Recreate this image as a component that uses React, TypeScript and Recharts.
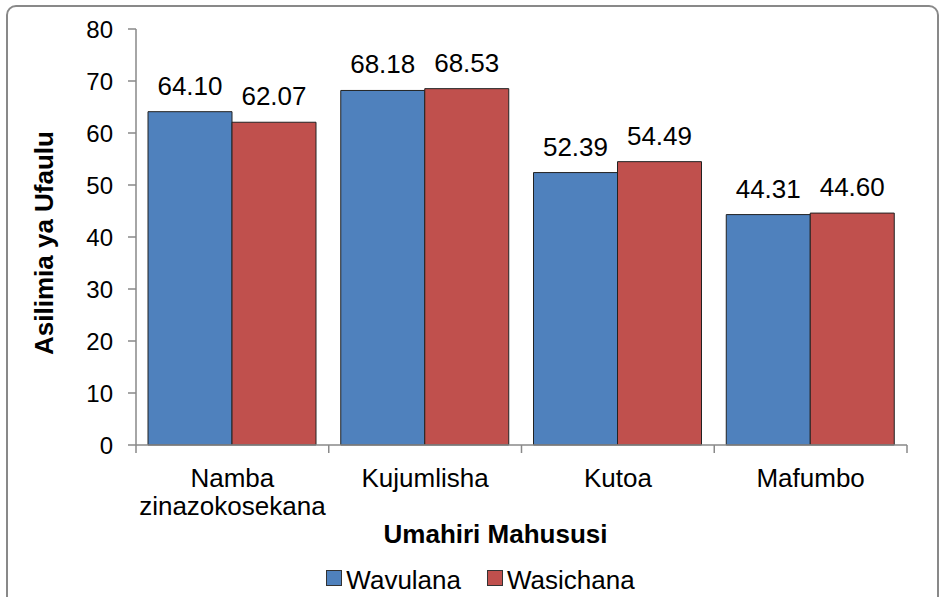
import React from "react"
import { Bar, BarChart, XAxis, YAxis, Legend, LabelList } from "recharts"

const categories = ["Namba\nzinazokosekana", "Kujumlisha", "Kutoa", "Mafumbo"]
const wavulana = [64.1, 68.18, 52.39, 44.31]
const wasichana = [62.07, 68.53, 54.49, 44.6]
const seriesOrder = ["Wavulana", "Wasichana"]
const yTicks = [0, 10, 20, 30, 40, 50, 60, 70, 80]

const FONT = '"Liberation Sans", Arial, sans-serif'
const AXIS = "#898989"
const BLUE = "#4F81BD"
const RED = "#C0504D"

const data = categories.map((name, i) => ({
  name,
  Wavulana: wavulana[i],
  Wasichana: wasichana[i],
}))

function CategoryTick(props: any) {
  const { x, y, payload, index, visibleTicksCount } = props
  const half = payload.offset || 96.4
  const lines = String(payload.value).split("\n")
  const isLast = index === visibleTicksCount - 1
  return (
    <g>
      <line x1={x - half} x2={x - half} y1={y - 10} y2={y - 2} stroke={AXIS} strokeWidth={1.5} />
      {isLast && <line x1={x + half} x2={x + half} y1={y - 10} y2={y - 2} stroke={AXIS} strokeWidth={1.5} />}
      <text x={x} y={y} textAnchor="middle" fontSize={26} fontFamily={FONT} fill="#000">
        {lines.map((l, i) => (
          <tspan key={i} x={x} dy={i === 0 ? 32 : 28}>
            {l}
          </tspan>
        ))}
      </text>
    </g>
  )
}

function LegendContent(props: any) {
  const items = [...(props.payload || [])].sort(
    (a: any, b: any) => seriesOrder.indexOf(a.value) - seriesOrder.indexOf(b.value)
  )
  return (
    <div
      style={{
        display: "flex",
        justifyContent: "center",
        alignItems: "center",
        height: 34,
        lineHeight: "30px",
        paddingLeft: 20,
        fontFamily: FONT,
        fontSize: 26,
        color: "#000",
      }}
    >
      {items.map((it: any, i: number) => (
        <div key={i} style={{ display: "flex", alignItems: "center", marginLeft: i === 0 ? 0 : 26 }}>
          <span
            style={{
              display: "inline-block",
              width: 14,
              height: 14,
              background: it.color,
              border: "1px solid #333",
              marginRight: 4,
              marginBottom: 5,
            }}
          />
          <span>{it.value}</span>
        </div>
      ))}
    </div>
  )
}

export default function App() {
  return (
    <div style={{ position: "absolute", left: 0, top: 0, width: 941, height: 597, overflow: "hidden", background: "#fff" }}>
      <BarChart
        width={941}
        height={597}
        data={data}
        margin={{ top: 29, right: 34, left: 26, bottom: 0 }}
        barCategoryGap={12}
        barGap={0}
      >
        <XAxis
          dataKey="name"
          height={118}
          stroke={AXIS}
          strokeWidth={1.5}
          tickLine={false}
          tickSize={8}
          tickMargin={2}
          interval={0}
          tick={<CategoryTick />}
          label={{
            position: "insideBottom",
            content: (p: any) => {
              const vb = p.viewBox
              return (
                <text
                  x={vb.x + vb.width / 2 - 26}
                  y={vb.y + vb.height - 20}
                  textAnchor="middle"
                  fontSize={26}
                  fontWeight="bold"
                  fontFamily={FONT}
                  fill="#000"
                >
                  Umahiri Mahususi
                </text>
              )
            },
          }}
        />
        <YAxis
          width={110}
          domain={[0, 80]}
          ticks={yTicks}
          interval={0}
          stroke={AXIS}
          strokeWidth={1.5}
          tickSize={8}
          tickMargin={15}
          tick={{ fontSize: 24, fontFamily: FONT, fill: "#000" }}
          label={{
            position: "insideLeft",
            content: (p: any) => {
              const vb = p.viewBox
              const cx = vb.x + 18
              const cy = vb.y + vb.height / 2 + 6
              return (
                <text
                  x={cx}
                  y={cy}
                  transform={`rotate(-90, ${cx}, ${cy})`}
                  textAnchor="middle"
                  dominantBaseline="central"
                  fontSize={26}
                  fontWeight="bold"
                  fontFamily={FONT}
                  fill="#000"
                >
                  Asilimia ya Ufaulu
                </text>
              )
            },
          }}
        />
        <Legend
          verticalAlign="bottom"
          wrapperStyle={{ left: 0, width: 941, height: 34 }}
          content={<LegendContent />}
        />
        <Bar dataKey="Wavulana" fill={BLUE} stroke="#222" strokeWidth={1} isAnimationActive={false}>
          <LabelList
            dataKey="Wavulana"
            position="top"
            offset={17}
            formatter={(v: any) => Number(v).toFixed(2)}
            style={{ fontSize: 26, fontFamily: FONT, fill: "#000" }}
          />
        </Bar>
        <Bar dataKey="Wasichana" fill={RED} stroke="#222" strokeWidth={1} isAnimationActive={false}>
          <LabelList
            dataKey="Wasichana"
            position="top"
            offset={17}
            formatter={(v: any) => Number(v).toFixed(2)}
            style={{ fontSize: 26, fontFamily: FONT, fill: "#000" }}
          />
        </Bar>
      </BarChart>
      <div
        style={{
          position: "absolute",
          left: 6,
          top: 5,
          width: 933,
          height: 640,
          boxSizing: "border-box",
          border: `2px solid ${AXIS}`,
          borderRadius: 10,
          pointerEvents: "none",
        }}
      />
    </div>
  )
}
